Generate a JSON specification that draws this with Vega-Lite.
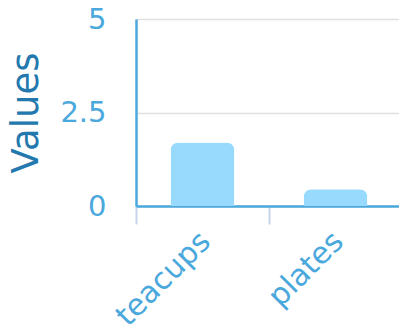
{
  "$schema": "https://vega.github.io/schema/vega-lite/v6.json",
  "autosize": "none",
  "padding": {"left": 136, "top": 19, "right": 0, "bottom": 121},
  "width": 266,
  "height": 187,
  "background": "white",
  "data": {"values": [
    {"item": "teacups", "value": 1.7},
    {"item": "plates", "value": 0.45}
  ]},
  "mark": {"type": "bar", "color": "#98d9fe", "width": {"band": 0.48}, "cornerRadiusTopLeft": 8, "cornerRadiusTopRight": 8},
  "encoding": {
    "x": {"field": "item", "type": "nominal", "sort": null,
      "scale": {"paddingInner": 0, "paddingOuter": 0},
      "axis": {"title": null, "labelAngle": -45, "labelFont": "DejaVu Sans", "labelFontSize": 30,
        "labelColor": "#4aa8dc", "labelPadding": 2, "labelOffset": -8, "tickBand": "extent", "tickColor": "#c8d4e8",
        "tickWidth": 2, "tickSize": 18, "domainColor": "#4aa8dc", "domainWidth": 2.5, "grid": false}},
    "y": {"field": "value", "type": "quantitative", "scale": {"domain": [0, 5]},
      "axis": {"title": "Values", "titleFont": "DejaVu Sans", "titleFontSize": 37, "titleFontWeight": "normal",
        "titleColor": "#2378ae", "titlePadding": 14, "values": [0, 2.5, 5], "labelExpr": "datum.value + ''", "labelFont": "DejaVu Sans",
        "labelFontSize": 29, "labelColor": "#4aa8dc", "labelPadding": 30, "ticks": false,
        "domainColor": "#4aa8dc", "domainWidth": 2.5, "gridColor": "#e0e0e0", "gridWidth": 1.5}}
  },
  "config": {"view": {"stroke": null}}
}
